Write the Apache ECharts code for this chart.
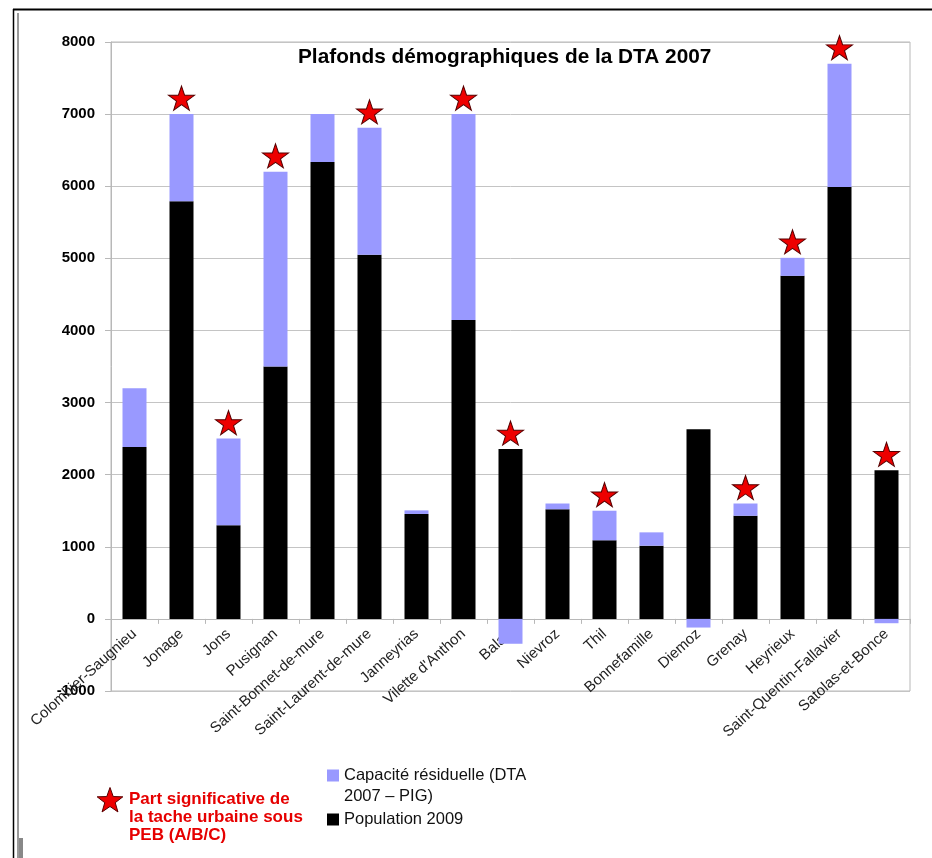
<!DOCTYPE html>
<html>
<head>
<meta charset="utf-8">
<script src="https://cdn.jsdelivr.net/npm/echarts@6/dist/echarts.min.js"></script>
<style>
html,body{margin:0;padding:0;background:#fff;}
#chart{width:932px;height:858px;}
</style>
</head>
<body>
<div id="chart"></div>
<script>
const categories = ['Colombier-Saugnieu','Jonage','Jons','Pusignan','Saint-Bonnet-de-mure','Saint-Laurent-de-mure','Janneyrias',"Vilette d'Anthon",'Balan','Nievroz','Thil','Bonnefamille','Diemoz','Grenay','Heyrieux','Saint-Quentin-Fallavier','Satolas-et-Bonce'];
const population2009 = [2385, 5790, 1300, 3500, 6335, 5050, 1455, 4145, 2355, 1520, 1090, 1015, 2630, 1430, 4757, 5990, 2060];
const capaciteResiduelle = [815, 1210, 1200, 2700, 665, 1760, 50, 2855, -345, 80, 410, 185, -120, 170, 250, 1710, -60];
const pebFlag = [0, 1, 1, 1, 0, 1, 0, 1, 1, 0, 1, 0, 0, 1, 1, 1, 1];
const yMin = -1000, yMax = 8000, yInterval = 1000;

const titleText = 'Plafonds démographiques de la DTA 2007';
const capName = 'Capacité résiduelle (DTA 2007 – PIG)';
const popName = 'Population 2009';
const pebText = 'Part significative de\nla tache urbaine sous\nPEB (A/B/C)';

const starPath = 'M50,0 L61.8,35.1 L98.9,35.1 L68.8,57.3 L79.4,91.2 L50,70.2 L20.6,91.2 L31.2,57.3 L1.1,35.1 L38.2,35.1 Z';

function starPoints(cx, cy, rOuter, rInner) {
  const pts = [];
  for (let k = 0; k < 10; k++) {
    const r = k % 2 === 0 ? rOuter : rInner;
    const a = -Math.PI / 2 + k * Math.PI / 5;
    pts.push([cx + r * Math.cos(a), cy + r * Math.sin(a)]);
  }
  return pts;
}

const starData = categories.map((c, i) => pebFlag[i] ? population2009[i] + Math.max(capaciteResiduelle[i], 0) : '-');

const W = 932, H = 858;
const gridTop = 42, gridBottom = 167;
const gridHeight = H - gridTop - gridBottom;
// move the category axis (line, ticks, labels) up to the value 0
const xAxisOffset = -gridHeight * (0 - yMin) / (yMax - yMin);

const chart = echarts.init(document.getElementById('chart'), null, {renderer: 'canvas'});
const font = '"Liberation Sans", Arial, sans-serif';
chart.setOption({
  animation: false,
  backgroundColor: '#fff',
  textStyle: {fontFamily: font},
  title: {
    text: titleText, left: 293, top: 42,
    textStyle: {fontSize: 20.8, fontWeight: 'bold', color: '#000', fontFamily: font}
  },
  grid: {left: 111, right: 22, top: gridTop, bottom: gridBottom, show: true, borderColor: '#b8b8b8', borderWidth: 1, backgroundColor: 'transparent'},
  legend: [
    {
      data: [capName], orient: 'vertical', left: 327, top: 744, padding: 0,
      icon: 'rect', itemWidth: 12, itemHeight: 12, itemGap: 6,
      formatter: n => '\n' + n.replace('(DTA ', '(DTA\n'),
      textStyle: {fontSize: 16.5, color: '#111', lineHeight: 21, fontFamily: font}
    },
    {
      data: [popName], orient: 'vertical', left: 327, top: 811, padding: 0,
      icon: 'rect', itemWidth: 12, itemHeight: 12,
      textStyle: {fontSize: 16.5, color: '#111', fontFamily: font}
    }
  ],
  xAxis: {
    type: 'category', data: categories, position: 'bottom', offset: xAxisOffset,
    axisLine: {onZero: false, lineStyle: {color: '#b8b8b8'}},
    axisTick: {show: true, length: 5, lineStyle: {color: '#b8b8b8'}},
    axisLabel: {rotate: 42, fontSize: 15, color: '#222', margin: 13, interval: 0, fontFamily: font},
    splitLine: {show: false}
  },
  yAxis: {
    type: 'value', min: yMin, max: yMax, interval: yInterval,
    axisLine: {show: true, lineStyle: {color: '#b8b8b8'}},
    axisTick: {show: true, length: 6, lineStyle: {color: '#b8b8b8'}},
    axisLabel: {fontSize: 15, fontWeight: 'bold', color: '#000', margin: 16, fontFamily: font, formatter: v => String(v)},
    splitLine: {show: true, lineStyle: {color: '#c4c4c4'}}
  },
  series: [
    {
      name: popName, type: 'bar', stack: 'total', barWidth: 24,
      itemStyle: {color: '#000'}, data: population2009
    },
    {
      name: capName, type: 'bar', stack: 'total', barWidth: 24,
      itemStyle: {color: '#9999ff'}, data: capaciteResiduelle
    },
    {
      name: 'PEB', type: 'scatter', symbol: 'path://' + starPath,
      symbolSize: [26, 24], symbolOffset: [0, -16], z: 5,
      itemStyle: {color: '#ee0000', borderColor: '#550000', borderWidth: 1, opacity: 1},
      data: starData
    }
  ],
  graphic: [
    {type: 'line', shape: {x1: 13, y1: 9.5, x2: 932, y2: 9.5}, style: {stroke: '#000', lineWidth: 2}},
    {type: 'line', shape: {x1: 13.5, y1: 9, x2: 13.5, y2: 858}, style: {stroke: '#000', lineWidth: 1.5}},
    {type: 'line', shape: {x1: 18, y1: 13, x2: 18, y2: 858}, style: {stroke: '#999', lineWidth: 2}},
    {type: 'rect', shape: {x: 19, y: 838, width: 4, height: 20}, style: {fill: '#888'}},
    {type: 'polygon', shape: {points: starPoints(110, 801, 13.5, 5.5)}, style: {fill: '#ee0000', stroke: '#550000', lineWidth: 1}},
    {type: 'text', left: 129, top: 790, style: {text: pebText, fill: '#e60000', font: 'bold 17px "Liberation Sans", Arial, sans-serif', lineHeight: 18}}
  ]
});
</script>
</body>
</html>
